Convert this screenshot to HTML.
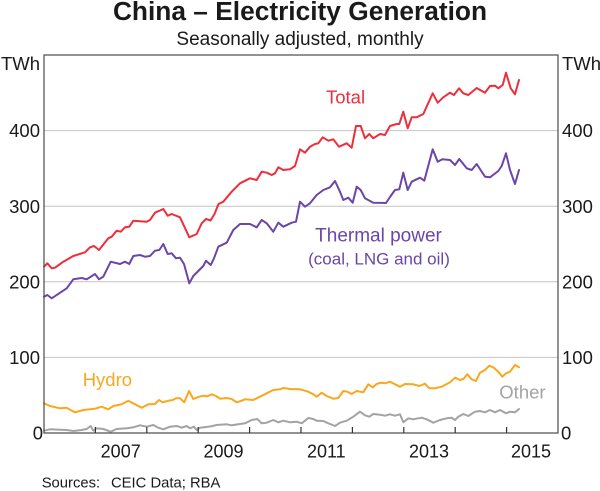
<!DOCTYPE html>
<html>
<head>
<meta charset="utf-8">
<style>
  html, body { margin: 0; padding: 0; background: #fff; }
  svg { display: block; }
  text { font-family: "Liberation Sans", Arial, sans-serif; fill: #1a1a1a; }
</style>
</head>
<body>
<svg width="600" height="491" viewBox="0 0 600 491" xmlns="http://www.w3.org/2000/svg">
  <!-- Titles -->
  <text x="300" y="20" font-size="26.3" font-weight="bold" text-anchor="middle">China – Electricity Generation</text>
  <text x="300" y="45" font-size="19" text-anchor="middle">Seasonally adjusted, monthly</text>

  <!-- Gridlines -->
  <g stroke="#c4c4c4" stroke-width="1">
    <line x1="44" y1="130.6" x2="558" y2="130.6"/>
    <line x1="44" y1="206.2" x2="558" y2="206.2"/>
    <line x1="44" y1="281.8" x2="558" y2="281.8"/>
    <line x1="44" y1="357.4" x2="558" y2="357.4"/>
  </g>

  <!-- Series -->
  <g fill="none" stroke-width="2" stroke-linejoin="round" stroke-linecap="round">
    <polyline stroke="#a3a3a3" points="44,430.7 50,429.3 60,429.7 66.7,430 73.3,431 81.7,430 86.7,429 90.7,426 93.3,430.7 96.7,428.3 103.3,429 110.7,431.7 116.7,429 126.7,428.3 133.3,427.3 140,425.3 146.7,426.7 153.3,425 158.3,427.7 163.3,429.3 170,426.7 176.7,426 181.7,427.7 186.7,426 190,428.3 194,426.7 196.7,430 200,427.7 210,426.5 216.7,425 226.7,424.3 231.7,425.3 240,424 245,423.3 251.7,420 257.3,419 261.7,423.3 266.7,422.7 273.3,420 278.3,422.3 283.3,420.7 290,422.3 296.7,421.7 301.7,423.3 308.3,418 313.3,419 316.7,420.7 323.3,421 328.3,423.3 335,426 340,422.7 346.7,420.7 353.3,416.7 360,411.7 365,415.3 369.3,416.7 373.3,414 380,414.7 385,415.7 390,414.3 395,415.7 400,414.3 403.3,422.3 408.3,418.3 413.3,419.3 418.3,418.3 421.7,417.7 426.7,419.3 433.3,422.7 440,420 446.7,418.3 451.7,417.7 455,420 458.3,416.7 463.3,414 468.3,416 475,411.7 480,411 485,412.3 490,410 495,412.3 500,410 506,413.3 510,411.7 515,412.3 519,409"/>
    <polyline stroke="#fba71e" points="44,403.3 50,406 60,408.3 66.7,407.7 71.7,410.7 75,412.3 83.3,410 95,408.7 101.7,406.7 108.3,409.3 113.3,406 121.7,404.3 128.3,400.7 135,404.3 141.7,407.7 148.3,404.3 155,404 159,400 162.7,402.3 168.3,400.7 172.7,400 176,398.3 180,398.3 184.3,402.3 189,391 193.3,399 199.3,396.7 203.3,395.7 207.3,396.3 211.7,394.3 216,396 220,398.7 226.7,398 231.7,399 236.7,402.3 241.7,400.7 245,399.3 253.3,400 260,396.7 266.7,393.3 273.3,390 280,389.3 283.3,388 290,389 300,389.3 308.3,391.7 313.3,394.3 316.7,396.7 321.7,392.7 326.7,396 333.3,398.7 338.3,398 343.3,391 347.3,391.7 351.7,394 356.7,391 363.3,392.3 368.3,384.3 372.7,387.3 376.7,384 380.7,382.7 385,383.3 390,381.7 395,384.3 400,386.7 405,384 413.3,384.3 419.3,386 425,383.7 429.3,388.3 435,388.3 441.7,386.7 450,382.3 455,377.7 460,380 463.3,379 467.3,374.3 471.7,379.3 476,381 480,372.7 485,370 489.3,365.7 493.3,367.3 498.3,371.7 502.3,376.7 506,373.3 510,371.7 515,365 519,367.3"/>
    <polyline stroke="#6a46a8" points="44,296.7 47.3,295 51.7,298.3 66.7,288.3 73.3,279.3 81.7,278 86.7,279.3 95,274 99,279.3 103.3,276.7 110.7,261.7 120,264 125,261.7 129.3,264 133.3,256 140,255 145,256.7 150,256 155,250.7 159.3,250 163.3,244 167.7,254 171.7,253.3 176,258.3 180,257.7 184,264 189.3,283.3 193.3,276 203.3,266 206,260.7 210.7,265 214,258.3 218.3,246.7 226.7,242.7 233.3,230 240,224 250,224 256.7,227.3 261.7,220 266.7,223.3 273.3,231.7 278.3,222.7 283.3,226.7 291.7,222.7 296,221.7 300,201.7 305,206.7 310,203.3 316.7,195 323.3,190 330,187.3 335,181 340,191.7 343.3,200 348.3,197.7 352.7,202.7 356.7,186.7 360.7,190 365,198.3 373.3,202.7 386,203 390,197 395,190 399.3,189.3 403.3,172.7 407.7,190 411.7,181.7 420,177.7 424.3,180.7 432.7,149.3 437.7,161.7 442.3,159.3 450,160 455,165 459.3,159 466.7,168.3 471.7,170 476.7,164 485,176.7 490,177.3 498.3,171 501.7,166 506,153.3 510,170 515,184 519,170"/>
    <polyline stroke="#ee2e3a" points="44,266.7 47.3,263.3 51.7,268.3 55,267.7 63.3,261.7 73.3,256 85,252.3 90,247.3 94,246 99,250 108.3,238.3 111.7,236.7 116.7,230.7 120.7,231.7 125,227.3 129.3,226.7 133.3,220.7 146.7,221.7 150,220 155,212.7 163.3,209 167.7,215.7 171.7,214 180,217.3 189.3,237.3 196.7,234 201.7,223.3 206,219 210.5,220.5 214.5,214 218.5,204 223.3,201.7 231.7,191.7 240,183.3 250,178.3 256.7,180 261.7,171.7 266.7,172.7 271.7,175 275,173.3 278.3,167.3 283.3,170 290,169.3 295,166 300,149.3 305,152.7 310,146.7 315,144 318.3,143.3 322.7,137.3 328.3,140.7 333.3,139.3 339,146.7 346.7,143.3 351.7,147.7 356,126 360.7,126 365,138.3 369.3,134 373.3,138.3 380,134 385,135 390,126 396.7,124 399.3,124 403.3,111.7 407.7,128.3 411.7,117.3 416.7,117.3 423.3,114 432.7,93.3 437.7,102.7 443.3,97.3 450,92.7 454,95 459,88.3 463.3,93.3 468.3,95 476.7,88 485,92.7 490,86 495,85.7 498.3,88.3 502.7,85 506,72.7 510.7,88.3 515,94.3 519,80"/>
  </g>

  <!-- Frame -->
  <rect x="44" y="55" width="514" height="378" fill="none" stroke="#4a4a4a" stroke-width="1.2"/>

  <!-- X ticks -->
  <g stroke="#333" stroke-width="1.2">
    <line x1="95.4" y1="427" x2="95.4" y2="433"/>
    <line x1="146.8" y1="427" x2="146.8" y2="433"/>
    <line x1="198.2" y1="427" x2="198.2" y2="433"/>
    <line x1="249.6" y1="427" x2="249.6" y2="433"/>
    <line x1="301" y1="427" x2="301" y2="433"/>
    <line x1="352.4" y1="427" x2="352.4" y2="433"/>
    <line x1="403.8" y1="427" x2="403.8" y2="433"/>
    <line x1="455.2" y1="427" x2="455.2" y2="433"/>
    <line x1="506.6" y1="427" x2="506.6" y2="433"/>
  </g>

  <!-- Y labels left -->
  <g font-size="18.5" text-anchor="end">
    <text x="40" y="70">TWh</text>
    <text x="40" y="137.2">400</text>
    <text x="40" y="212.8">300</text>
    <text x="40" y="288.4">200</text>
    <text x="40" y="364">100</text>
    <text x="43" y="439.5">0</text>
  </g>
  <!-- Y labels right -->
  <g font-size="18.5" text-anchor="start">
    <text x="562" y="70">TWh</text>
    <text x="562" y="137.2">400</text>
    <text x="562" y="212.8">300</text>
    <text x="562" y="288.4">200</text>
    <text x="562" y="364">100</text>
    <text x="561" y="439.5">0</text>
  </g>

  <!-- X labels -->
  <g font-size="18" text-anchor="middle">
    <text x="120.7" y="457.7">2007</text>
    <text x="223.5" y="457.7">2009</text>
    <text x="326.3" y="457.7">2011</text>
    <text x="429" y="457.7">2013</text>
    <text x="531" y="457.7">2015</text>
  </g>

  <!-- Series labels -->
  <text x="326" y="103.3" font-size="18.5" style="fill:#ee2e3a">Total</text>
  <text x="378.5" y="241.7" font-size="19" text-anchor="middle" style="fill:#6a46a8">Thermal power</text>
  <text x="379" y="264.3" font-size="17" text-anchor="middle" style="fill:#6a46a8">(coal, LNG and oil)</text>
  <text x="82.7" y="386" font-size="18.5" style="fill:#fba71e">Hydro</text>
  <text x="499.3" y="398.3" font-size="18.5" style="fill:#a3a3a3">Other</text>

  <!-- Sources -->
  <text x="41.7" y="487.5" font-size="14.8">Sources:</text>
  <text x="111" y="487.5" font-size="14.8">CEIC Data; RBA</text>
</svg>
</body>
</html>
